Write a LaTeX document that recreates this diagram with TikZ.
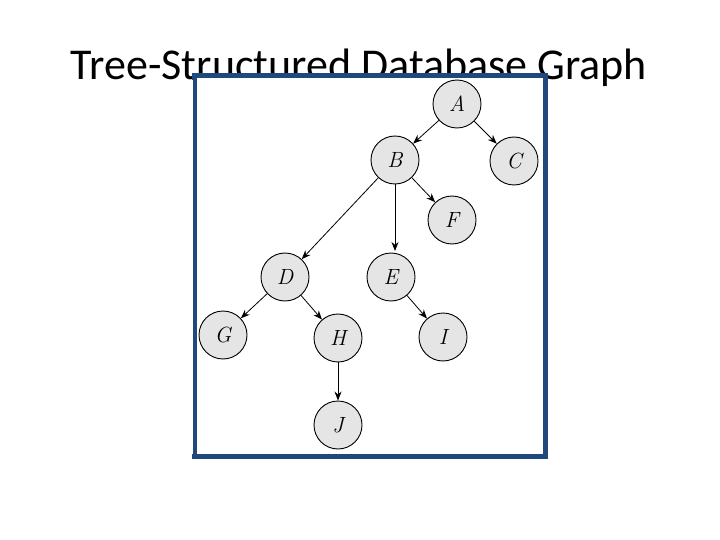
\documentclass[tikz,border=0pt]{standalone}
\usepackage{fontspec}
\newfontfamily\titlefont{Carlito}
\usetikzlibrary{arrows.meta}
\begin{document}
\begin{tikzpicture}[x=1pt,y=-1pt,
  vert/.style={circle,draw=black,fill=gray!20,line width=0.9pt,minimum size=48pt,inner sep=0pt,font=\fontsize{22}{22}\selectfont\itshape},
  edge/.style={-{Stealth[length=9pt,width=7pt]},line width=0.8pt}]
\useasboundingbox (0,0) rectangle (720,540);
\node[font=\titlefont\fontsize{44}{44}\selectfont] (title) at (359,68) {Tree-Structured Database Graph};
\fill[white] (194,78) rectangle (545,456);
\draw[line width=5pt,color={rgb,255:red,31;green,73;blue,125}] (194,76) rectangle (545,456);
\draw[line width=1.2pt,white] (192.5,80) -- (192.5,454);
\node[vert] (A) at (457,104) {A};
\node[vert] (C) at (514,161) {C};
\node[vert] (B) at (395,160) {B};
\node[vert] (F) at (452,220) {F};
\node[vert] (D) at (285,277) {D};
\node[vert] (E) at (391,277) {E};
\node[vert] (G) at (223,335) {G};
\node[vert] (H) at (338,338) {H};
\node[vert] (I) at (443,337) {I};
\node[vert] (J) at (338,425) {J};
\coordinate (Etop) at (395,251);
\draw[edge] (A) -- (B);
\draw[edge] (A) -- (C);
\draw[edge] (B) -- (F);
\draw[edge] (B) -- (D);
\draw[edge] (B.south) -- (Etop);
\draw[edge] (D) -- (G);
\draw[edge] (D) -- (H);
\draw[edge] (E) -- (I);
\draw[edge] (H) -- (J);
\end{tikzpicture}
\end{document}
